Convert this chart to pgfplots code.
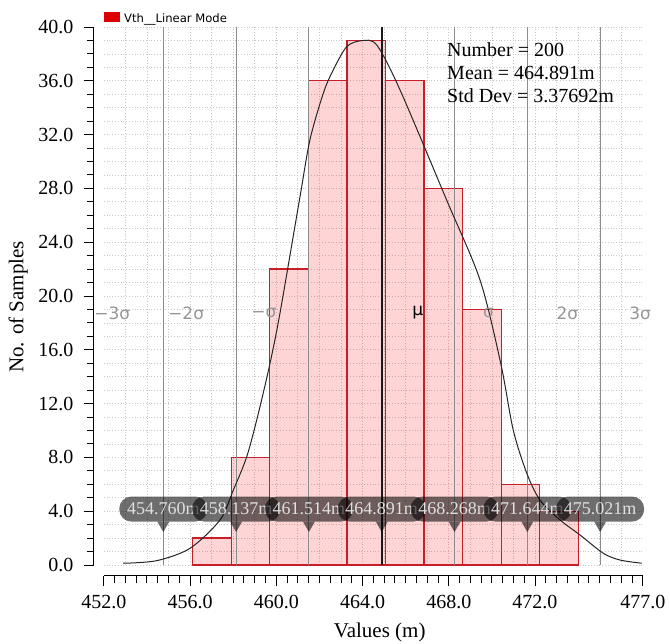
\documentclass[border=0pt]{standalone}
\usepackage{fontspec}
\setmainfont{Liberation Serif}
\newfontfamily\dejavu{DejaVu Sans}
\usepackage{pgfplots}
\pgfplotsset{compat=1.18}
\definecolor{barred}{RGB}{200,30,40}
\definecolor{sigg}{RGB}{140,140,140}
\definecolor{gridg}{RGB}{200,200,200}
\definecolor{lbl}{RGB}{150,150,150}
\definecolor{legred}{RGB}{220,0,0}
\begin{document}
\begin{tikzpicture}
\begin{axis}[
  scale only axis, width=539pt, height=538pt,
  xmin=452, xmax=477, ymin=0, ymax=40,
  clip=false,
  axis lines=left, axis line style={-, line width=1pt, black},
  axis x line shift=11pt, axis y line shift=10pt,
  tick align=outside,
  xtick={452,456,460,464,468,472,477},
  minor xtick={452,452.5,...,477},
  ytick={0,4,...,40},
  minor ytick={0,1,...,40},
  major tick length=10pt, minor tick length=7pt,
  every tick/.style={black, line width=0.9pt},
  tick label style={font=\fontsize{20}{22}\selectfont, /pgf/number format/.cd, fixed, fixed zerofill, precision=1, assume math mode=true, /tikz/.cd},
  xticklabel style={yshift=-6pt},
  yticklabel style={xshift=-7pt},
  ymajorgrids=true, yminorgrids=true,
  extra x ticks={453,454,...,476},
  extra x tick labels={},
  extra x tick style={grid=major, tick style={draw=none}},
  grid style={gridg, dash pattern=on 1pt off 1.8pt, line width=0.7pt},
  xlabel={Values (m)}, ylabel={No. of Samples},
  label style={font=\fontsize{21}{22}\selectfont},
  xlabel style={at={(axis description cs:0.512,-0.134)}, anchor=base},
  ylabel style={at={(axis description cs:-0.159,0.48)}, anchor=center},
]
\coordinate (O) at (rel axis cs:0,0);
\addplot[ybar interval, fill=red, fill opacity=0.17, draw=barred, draw opacity=1, line width=1.2pt] coordinates {
(456.12,2) (457.91,8) (459.70,22) (461.49,36) (463.28,39) (465.07,36) (466.85,28) (468.64,19) (470.43,6) (472.22,4) (474.01,4)};
\addplot[sigg, line width=1.1pt] coordinates {(454.760,0) (454.760,40)};
\addplot[sigg, line width=1.1pt] coordinates {(458.137,0) (458.137,40)};
\addplot[sigg, line width=1.1pt] coordinates {(461.514,0) (461.514,40)};
\addplot[sigg, line width=1.1pt] coordinates {(468.268,0) (468.268,40)};
\addplot[sigg, line width=1.1pt] coordinates {(471.644,0) (471.644,40)};
\addplot[sigg, line width=1.1pt] coordinates {(475.021,0) (475.021,40)};
\addplot[black!90, line width=1.6pt] coordinates {(464.891,0) (464.891,40)};
\addplot[smooth, black!85, line width=1pt, mark=none] coordinates {
(452.90,0.13) (454.45,0.32) (456.00,1.24) (457.39,3.35) (458.01,5.58) (458.63,8.05) (459.17,11.28) (459.71,15.0) (460.17,18.71) (461.10,27.38) (461.56,31.6) (462.18,35.07) (462.64,36.8) (463.27,38.54) (463.96,38.98) (464.66,38.66) (465.74,35.32) (467.90,27.14) (469.45,21.19) (470.41,15.0) (470.99,10.04) (471.62,6.82) (472.23,4.83) (473.16,3.35) (474.09,2.23) (475.17,0.87) (475.94,0.37) (476.95,0.13)};
% sigma labels
\node[lbl, font=\dejavu\fontsize{17}{17}\selectfont, xshift=-51pt] at (axis cs:454.760,18.74) {−3σ};
\node[lbl, font=\dejavu\fontsize{17}{17}\selectfont, xshift=-50pt] at (axis cs:458.137,18.74) {−2σ};
\node[lbl, font=\dejavu\fontsize{17}{17}\selectfont, xshift=-45pt] at (axis cs:461.514,18.74) {−σ};
\node[black, font=\dejavu\fontsize{17}{17}\selectfont, xshift=36pt] at (axis cs:464.891,18.74) {μ};
\node[lbl, font=\dejavu\fontsize{17}{17}\selectfont, xshift=34pt] at (axis cs:468.268,18.74) {σ};
\node[lbl, font=\dejavu\fontsize{17}{17}\selectfont, xshift=40pt] at (axis cs:471.644,18.74) {2σ};
\node[lbl, font=\dejavu\fontsize{17}{17}\selectfont, xshift=40pt] at (axis cs:475.021,18.74) {3σ};
% stats
\node[anchor=base west, inner sep=0pt, font=\fontsize{20}{22}\selectfont] at (axis cs:467.92,37.77) {Number = 200};
\node[anchor=base west, inner sep=0pt, font=\fontsize{20}{22}\selectfont] at (axis cs:467.92,36.06) {Mean = 464.891m};
\node[anchor=base west, inner sep=0pt, font=\fontsize{20}{22}\selectfont] at (axis cs:467.92,34.35) {Std Dev = 3.37692m};
% legend
\node[anchor=base west, inner sep=0pt, font=\dejavu\fontsize{11.6}{12}\selectfont] at (axis cs:452.01,40.37) {\textcolor{legred}{\rule{16pt}{10pt}}\hspace{4pt}Vth\_\_Linear Mode};
% marker labels
\pgfplotsinvokeforeach{454.760,458.137,461.514,464.891,468.268,471.644,475.021}{
  \fill[black, fill opacity=0.57] ([xshift=-6pt,yshift=-12.5pt]axis cs:#1,4.16) -- ([yshift=-23pt]axis cs:#1,4.16) -- ([xshift=6pt,yshift=-12.5pt]axis cs:#1,4.16) -- cycle;
  \node[fill=black, fill opacity=0.57, text opacity=1, text=white!88!black, rounded corners=12pt, minimum width=88pt, minimum height=25pt, inner sep=0pt, font=\fontsize{18}{18}\selectfont] at (axis cs:#1,4.16) {#1m};
}
\end{axis}
\pgfresetboundingbox
\path[use as bounding box] (O) ++(-103.8pt,-79pt) rectangle ++(670pt,644pt);
\end{tikzpicture}
\end{document}
